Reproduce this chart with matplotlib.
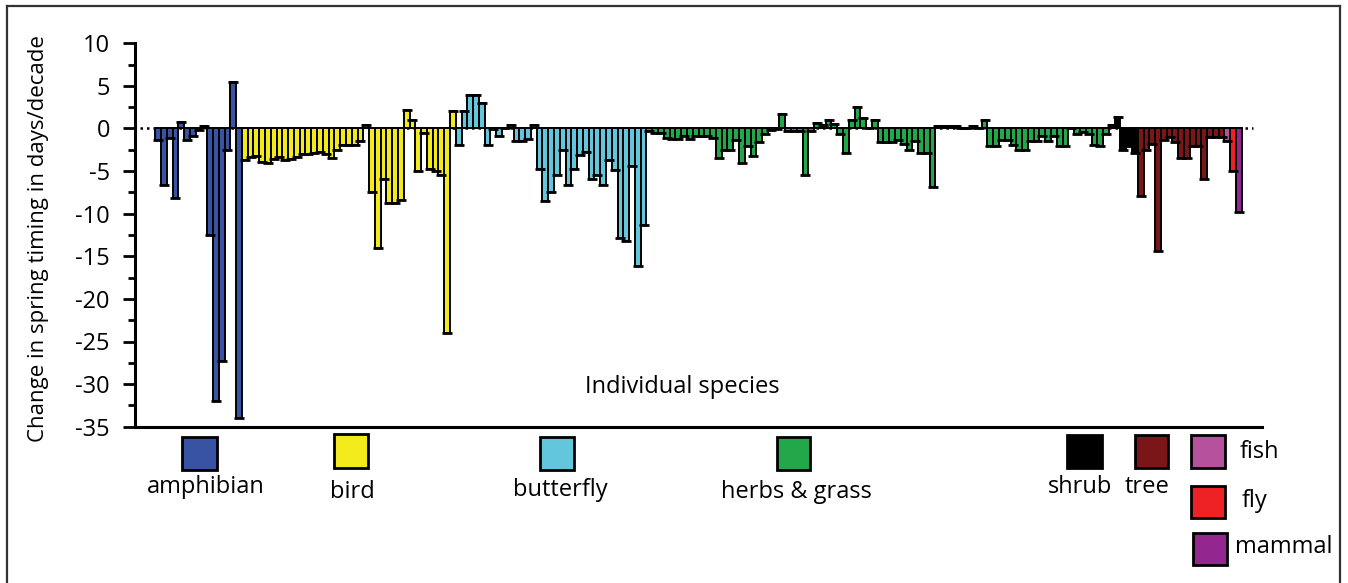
import matplotlib
matplotlib.use("Agg")
import matplotlib.pyplot as plt
from matplotlib.patches import Rectangle
from matplotlib.lines import Line2D
from matplotlib.ticker import MultipleLocator

plt.rcParams['font.family'] = ['Open Sans', 'DejaVu Sans']

# ---- data (change in spring timing, days/decade) ----
amphibian = [-1.3, -6.6, -1.1, -8.2, 0.75, -1.3, -0.9, -0.2, 0.35, -12.5,
             -32.0, -27.3, -2.5, 5.4, -34.0]
bird = [-3.7, -3.4, -3.2, -3.9, -4.0, -3.6, -3.3, -3.7, -3.6, -3.3, -3.0,
        -3.0, -2.9, -2.7, -3.0, -3.5, -2.5, -1.9, -1.9, -1.9, -1.5, 0.45,
        -7.5, -14.0, -5.9, -8.8, -8.8, -8.4, 2.2, 1.0, -5.0, -0.5, -4.8,
        -5.0, -5.4, -24.0, 2.0]
butterfly = [-1.9, 2.0, 3.9, 3.9, 3.0, -1.9, -0.1, -0.9, 0.0, 0.4, -1.5,
             -1.5, -1.2, 0.4, -4.7, -8.5, -7.5, -5.4, -2.5, -6.6, -4.7, -3.1,
             -2.8, -5.9, -5.4, -6.6, -3.7, -4.9, -12.9, -13.2, -4.4, -16.1,
             -11.3]
herbs_grass = [-0.3, -0.5, -0.5, -1.1, -1.2, -1.2, -0.9, -1.2, -0.9, -0.9,
               -0.9, -1.1,
               -3.5, -2.5, -2.5, -1.3, -4.1, -2.1, -3.2, -1.6, -0.7, -0.2,
               -0.1, 1.65, -0.3, -0.3, -0.3, -5.4, -0.3, 0.7, 0.4, 1.05, 0.55,
               -0.6, -2.9, 0.95, 2.5, 1.25, 0.1, 1.05, -1.6, -1.6, -1.6,
               -1.4, -1.8, -2.5, -1.5, -2.9, -2.9, -6.9, 0.3, 0.3, 0.3, 0.3,
               0.0, 0.0, 0.3, 0.0, 1.05,
               -2.1, -2.1, -1.3, -1.3, -1.9, -2.5, -2.5, -1.5, -1.5, -0.9,
               -1.5, -0.9, -2.1, -2.1, 0.0, -0.6, -0.4, -0.7, -1.9, -2.1, -0.6]
shrub = [0.4, 1.35, -2.5, -2.0, -2.9]
tree = [-7.9, -2.5, -1.8, -14.4, -1.3, -1.0, -1.6, -3.5, -3.5, -2.1, -2.1,
        -5.9, -1.0, -1.0, -1.0]
fish = [-1.5]
fly = [-5.0]
mammal = [-9.8]

groups = ["amphibian", "bird", "butterfly", "herbs & grass", "shrub", "tree",
          "fish", "fly", "mammal"]
group_values = [amphibian, bird, butterfly, herbs_grass, shrub, tree, fish,
                fly, mammal]
group_colors = ["#3953A4", "#F3EA1B", "#62C6DC", "#22A84A", "#000000",
                "#7A1518", "#B6519E", "#EE2225", "#93278F"]

yticks = [10, 5, 0, -5, -10, -15, -20, -25, -30, -35]

W, H = 1348, 583
fig = plt.figure(figsize=(W / 100, H / 100), dpi=100)
ax = fig.add_axes([135 / W, 1 - 426.7 / H, (1262 - 135) / W, (426.7 - 43.3) / H])

values, colors = [], []
for vals, col in zip(group_values, group_colors):
    values.extend(vals)
    colors.extend([col] * len(vals))
n = len(values)
xs = list(range(n))

ax.bar(xs, values, width=1.0, color=colors, edgecolor="black",
       linewidth=1.4, zorder=3)
ax.plot(xs, values, linestyle="none", marker="_", markersize=6.5,
        markeredgewidth=2.0, color="black", zorder=4)

ax.plot([-3.2, n + 1.5], [0, 0], color="black", linestyle=(0, (1, 1.6)),
        linewidth=1.8, zorder=2)

ax.set_xlim(-4.0, n + 3.0)
ax.set_ylim(-35, 10)
ax.set_yticks(yticks)
ax.set_yticklabels([str(t) for t in yticks])
ax.yaxis.set_minor_locator(MultipleLocator(2.5))
ax.tick_params(axis="y", which="major", length=9, width=2.0, labelsize=17,
               pad=9, direction="out")
ax.tick_params(axis="y", which="minor", length=5, width=2.0, direction="out")
ax.set_xticks([])
for side in ("top", "right"):
    ax.spines[side].set_visible(False)
ax.spines["left"].set_linewidth(2.2)
ax.spines["bottom"].set_linewidth(2.2)

ax.set_ylabel("Change in spring timing in days/decade", fontsize=16)
ax.yaxis.label.set_verticalalignment("center")
ax.yaxis.set_label_coords(-0.086, 0.49)

ax.text(0.486, 0.1035, "Individual species", transform=ax.transAxes,
        fontsize=17, ha="center", va="center")

# ---- legend (drawn as figure patches) ----
def fx(x):
    return x / W

def fy(y):
    return 1 - y / H

legend_boxes = [
    (182, 437, 35, 33), (334, 434, 34, 34), (540, 437, 34, 33),
    (777, 437, 33, 33), (1067, 435, 35, 33), (1135, 435, 33, 33),
    (1191, 435, 34, 33), (1191, 486, 34, 32), (1193, 533, 34, 32),
]
legend_labels = [
    (206, 487, "center"), (352, 492, "center"), (560, 490, "center"),
    (796, 492, "center"), (1080, 487, "center"), (1147, 487, "center"),
    (1240, 452, "left"), (1242, 501, "left"), (1235, 547, "left"),
]
for (bx, by, bw, bh), (lx, ly, ha), name, col in zip(
        legend_boxes, legend_labels, groups, group_colors):
    fig.patches.append(Rectangle((fx(bx), fy(by + bh)), bw / W, bh / H,
                                 facecolor=col, edgecolor="black",
                                 linewidth=2.0, transform=fig.transFigure))
    fig.text(fx(lx), fy(ly), name, fontsize=17, ha=ha, va="center")

# ---- outer frame ----
frame_kw = dict(color="#333333", linewidth=1.6, transform=fig.transFigure)
fig.lines.append(Line2D([fx(7), fx(7)], [fy(6), -0.1], **frame_kw))
fig.lines.append(Line2D([fx(7), fx(1340)], [fy(6), fy(6)], **frame_kw))
fig.lines.append(Line2D([fx(1340), fx(1340)], [fy(6), -0.1], **frame_kw))

fig.savefig("out.png", dpi=100)
